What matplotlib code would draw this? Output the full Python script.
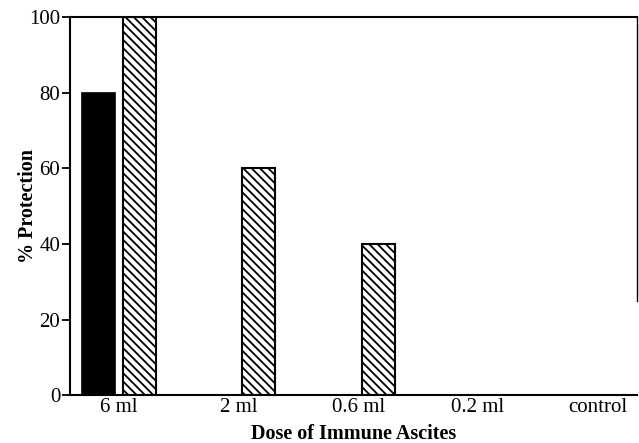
import numpy as np
import matplotlib
matplotlib.use("Agg")
import matplotlib.pyplot as plt

# Data
doses = ["6 ml", "2 ml", "0.6 ml", "0.2 ml", "control"]
solid_vals = [80, 0, 0, 0, 0]
hatched_vals = [100, 60, 40, 0, 0]
yticks = [0, 20, 40, 60, 80, 100]

plt.rcParams['font.family'] = ['Liberation Serif', 'DejaVu Serif']
plt.rcParams['hatch.linewidth'] = 1.3

fig = plt.figure(figsize=(6.39, 4.43), dpi=100)
ax = fig.add_axes([0.1095, 0.108, 0.8875, 0.8536])

x = np.arange(len(doses))
width = 0.275
off = 0.168

# Solid bars (skip zero values so nothing is drawn there)
for xi, v in zip(x, solid_vals):
    if v > 0:
        ax.bar(xi - off, v, width, color="black", edgecolor="black", linewidth=1.2)
for xi, v in zip(x, hatched_vals):
    if v > 0:
        ax.bar(xi + off, v, width, color="white", edgecolor="black",
               hatch="\\\\\\\\", linewidth=1.5)

ax.set_xlim(-0.41, 4.33)
ax.set_ylim(0, 100)
ax.set_xticks(x)
ax.set_xticklabels(doses, fontsize=15)
ax.set_yticks(yticks)
ax.set_yticklabels([str(t) for t in yticks], fontsize=15)
ax.tick_params(axis="x", length=0, pad=2)
ax.tick_params(axis="y", direction="out", length=6, width=1.3, pad=1)

for s in ax.spines.values():
    s.set_linewidth(1.5)
ax.spines["right"].set_linewidth(1.0)
ax.spines["right"].set_bounds(25, 100)

ax.set_xlabel("Dose of Immune Ascites", fontsize=14.5, fontweight="bold")
ax.set_ylabel("% Protection", fontsize=14.5, fontweight="bold")
ax.xaxis.set_label_coords(0.5, -0.075)
ax.yaxis.set_label_coords(-0.057, 0.5)

fig.savefig("out.png", dpi=100)
